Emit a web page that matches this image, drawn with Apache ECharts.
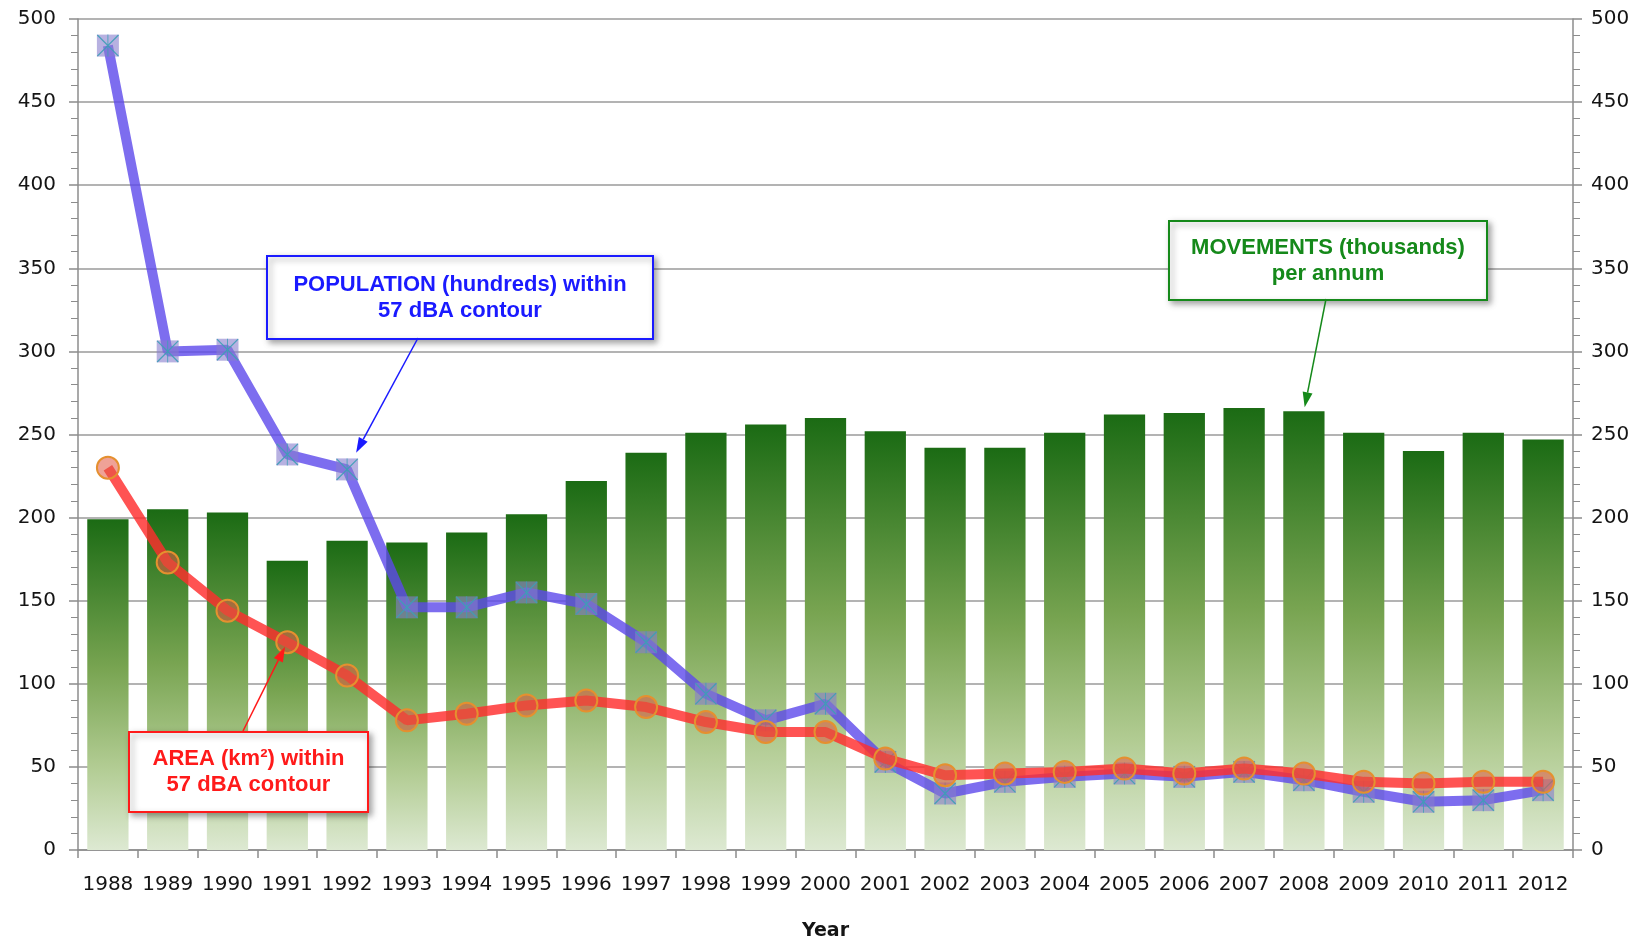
<!DOCTYPE html>
<html>
<head>
<meta charset="utf-8">
<title>Movements, population and area within 57 dBA contour</title>
<script src="https://cdn.jsdelivr.net/npm/echarts@6/dist/echarts.min.js"></script>
<style>
html, body { margin: 0; padding: 0; background: #fff; }
#chart { width: 1648px; height: 946px; }
</style>
</head>
<body>
<div id="chart"></div>
<script>
// data
const years = ['1988', '1989', '1990', '1991', '1992', '1993', '1994', '1995', '1996', '1997', '1998', '1999',
	'2000', '2001', '2002', '2003', '2004', '2005', '2006', '2007', '2008', '2009', '2010', '2011', '2012'];
// movements (thousands) per annum
const movements = [199, 205, 203, 174, 186, 185, 191, 202, 222, 239, 251, 256, 260, 252, 242, 242, 251, 262, 263, 266, 264, 251, 240, 251, 247];
// population (hundreds) within 57 dBA contour
const population = [484, 300, 301, 238, 229, 146, 146, 155, 148, 125, 94, 78, 88, 53, 34, 41, 44, 46, 44, 47, 42, 35, 29, 30, 36];
// area (km2) within 57 dBA contour
const area = [230, 173, 144, 125, 105, 78, 82, 87, 90, 86, 77, 71, 71, 55, 45, 46, 47, 49, 46, 49, 46, 41, 40, 41, 41];
const yMin = 0;
const yMax = 500;
const yStep = 50;

const axisGray = '#8c8c8c';
const labelFont = 'DejaVu Sans';
const noteFont = 'Liberation Sans';

// thin asterisk drawn on the population markers
const asterisk = 'path://M4,0 L100,96 L96,100 L0,4 Z M96,0 L100,4 L4,100 L0,96 Z M48,0 L52,0 L52,100 L48,100 Z';

const yAxisBase = (side) => ({
	type: 'value',
	position: side,
	min: yMin,
	max: yMax,
	interval: yStep,
	axisLine: { show: true, lineStyle: { color: axisGray, width: 1.5 } },
	axisTick: { show: true, inside: false, length: 9, lineStyle: { color: axisGray, width: 1.5 } },
	minorTick: { show: true, splitNumber: 5, length: 7, lineStyle: { color: axisGray, width: 1 } },
	axisLabel: { color: '#141414', fontFamily: labelFont, fontSize: 20, margin: side === 'left' ? 22 : 18 },
	splitLine: { show: side === 'left', lineStyle: { color: '#9a9a9a', width: 1.5 } },
});

const option = {
	animation: false,
	backgroundColor: '#fff',
	grid: { left: 78, right: 75, top: 19, bottom: 95, containLabel: false },
	xAxis: {
		type: 'category',
		data: years,
		name: 'Year',
		nameLocation: 'middle',
		nameGap: 72,
		nameTextStyle: { color: '#141414', fontFamily: labelFont, fontSize: 19, fontWeight: 'bold' },
		axisLine: { lineStyle: { color: axisGray, width: 1.5 } },
		axisTick: { show: true, length: 8, lineStyle: { color: axisGray, width: 1.5 } },
		axisLabel: { color: '#141414', fontFamily: labelFont, fontSize: 20, margin: 25, interval: 0 },
	},
	yAxis: [yAxisBase('left'), yAxisBase('right')],
	series: [
		{
			name: 'Movements',
			type: 'bar',
			data: movements,
			barCategoryGap: '31%',
			itemStyle: {
				color: new echarts.graphic.LinearGradient(0, 0, 0, 1, [
					{ offset: 0, color: '#1b6b14' },
					{ offset: 0.45, color: '#78a451' },
					{ offset: 0.75, color: '#b2cc93' },
					{ offset: 1, color: '#dde9d2' },
				]),
				shadowColor: 'rgba(0,0,0,0.25)',
				shadowBlur: 3,
				shadowOffsetX: 2,
			},
			z: 2,
		},
		{
			name: 'Population',
			type: 'line',
			data: population,
			symbol: 'rect',
			symbolSize: 22,
			lineStyle: { color: 'rgba(92,72,235,0.8)', width: 10 },
			itemStyle: { color: 'rgba(135,125,205,0.6)', borderWidth: 0 },
			z: 3,
		},
		{
			name: 'PopulationMarks',
			type: 'scatter',
			data: population,
			symbol: asterisk,
			symbolSize: 22,
			itemStyle: { color: '#3c9fb6', opacity: 0.9 },
			z: 4,
		},
		{
			name: 'Area',
			type: 'line',
			data: area,
			symbol: 'circle',
			symbolSize: 22,
			lineStyle: { color: 'rgba(255,45,45,0.82)', width: 10 },
			itemStyle: { color: 'rgba(225,85,65,0.55)', borderColor: '#e5902f', borderWidth: 2 },
			z: 5,
		},
	],
};

const chart = echarts.init(document.getElementById('chart'));
chart.setOption(option);

// annotation boxes and arrows
const noteBox = (left, top, width, height, color, lines) => ({
	type: 'group',
	left: left,
	top: top,
	z: 100,
	children: [
		{
			type: 'rect',
			z: 100,
			shape: { x: 0, y: 0, width: width, height: height },
			style: {
				fill: '#fff',
				stroke: color,
				lineWidth: 2,
				shadowColor: 'rgba(0,0,0,0.35)',
				shadowBlur: 6,
				shadowOffsetX: 3,
				shadowOffsetY: 3,
			},
		},
		{
			type: 'text',
			z: 101,
			x: width / 2,
			y: height / 2,
			style: {
				text: lines.join('\n'),
				fill: color,
				font: 'bold 22px "' + noteFont + '"',
				lineHeight: 26,
				align: 'center',
				verticalAlign: 'middle',
			},
		},
	],
});

const arrow = (from, dataPt, color, gap) => {
	const to = chart.convertToPixel({ xAxisIndex: 0, yAxisIndex: 0 }, dataPt);
	const dx = from[0] - to[0];
	const dy = from[1] - to[1];
	const len = Math.hypot(dx, dy);
	const ux = dx / len;
	const uy = dy / len;
	const tip = [to[0] + ux * gap, to[1] + uy * gap];
	const headLen = 15;
	const headW = 5;
	const base = [tip[0] + ux * headLen, tip[1] + uy * headLen];
	return [
		{
			type: 'line',
			z: 100,
			shape: { x1: from[0], y1: from[1], x2: base[0], y2: base[1] },
			style: { stroke: color, lineWidth: 1.5 },
		},
		{
			type: 'polygon',
			z: 100,
			shape: {
				points: [tip, [base[0] - uy * headW, base[1] + ux * headW], [base[0] + uy * headW, base[1] - ux * headW]],
			},
			style: { fill: color },
		},
	];
};

chart.setOption({
	graphic: [
		noteBox(266, 255, 386, 83, '#1a1aff', ['POPULATION (hundreds) within', '57 dBA contour']),
		noteBox(128, 731, 239, 80, '#ff1a1a', ['AREA (km\u00b2) within', '57 dBA contour']),
		noteBox(1168, 220, 318, 79, '#15891a', ['MOVEMENTS (thousands)', 'per annum']),
		...arrow([418, 338], [years[4], population[4]], '#1a1aff', 19),
		...arrow([243, 731], [years[3], area[3]], '#ff1a1a', 5),
		...arrow([1326, 299], [years[20], movements[20]], '#15891a', 4),
	],
});
</script>
</body>
</html>
